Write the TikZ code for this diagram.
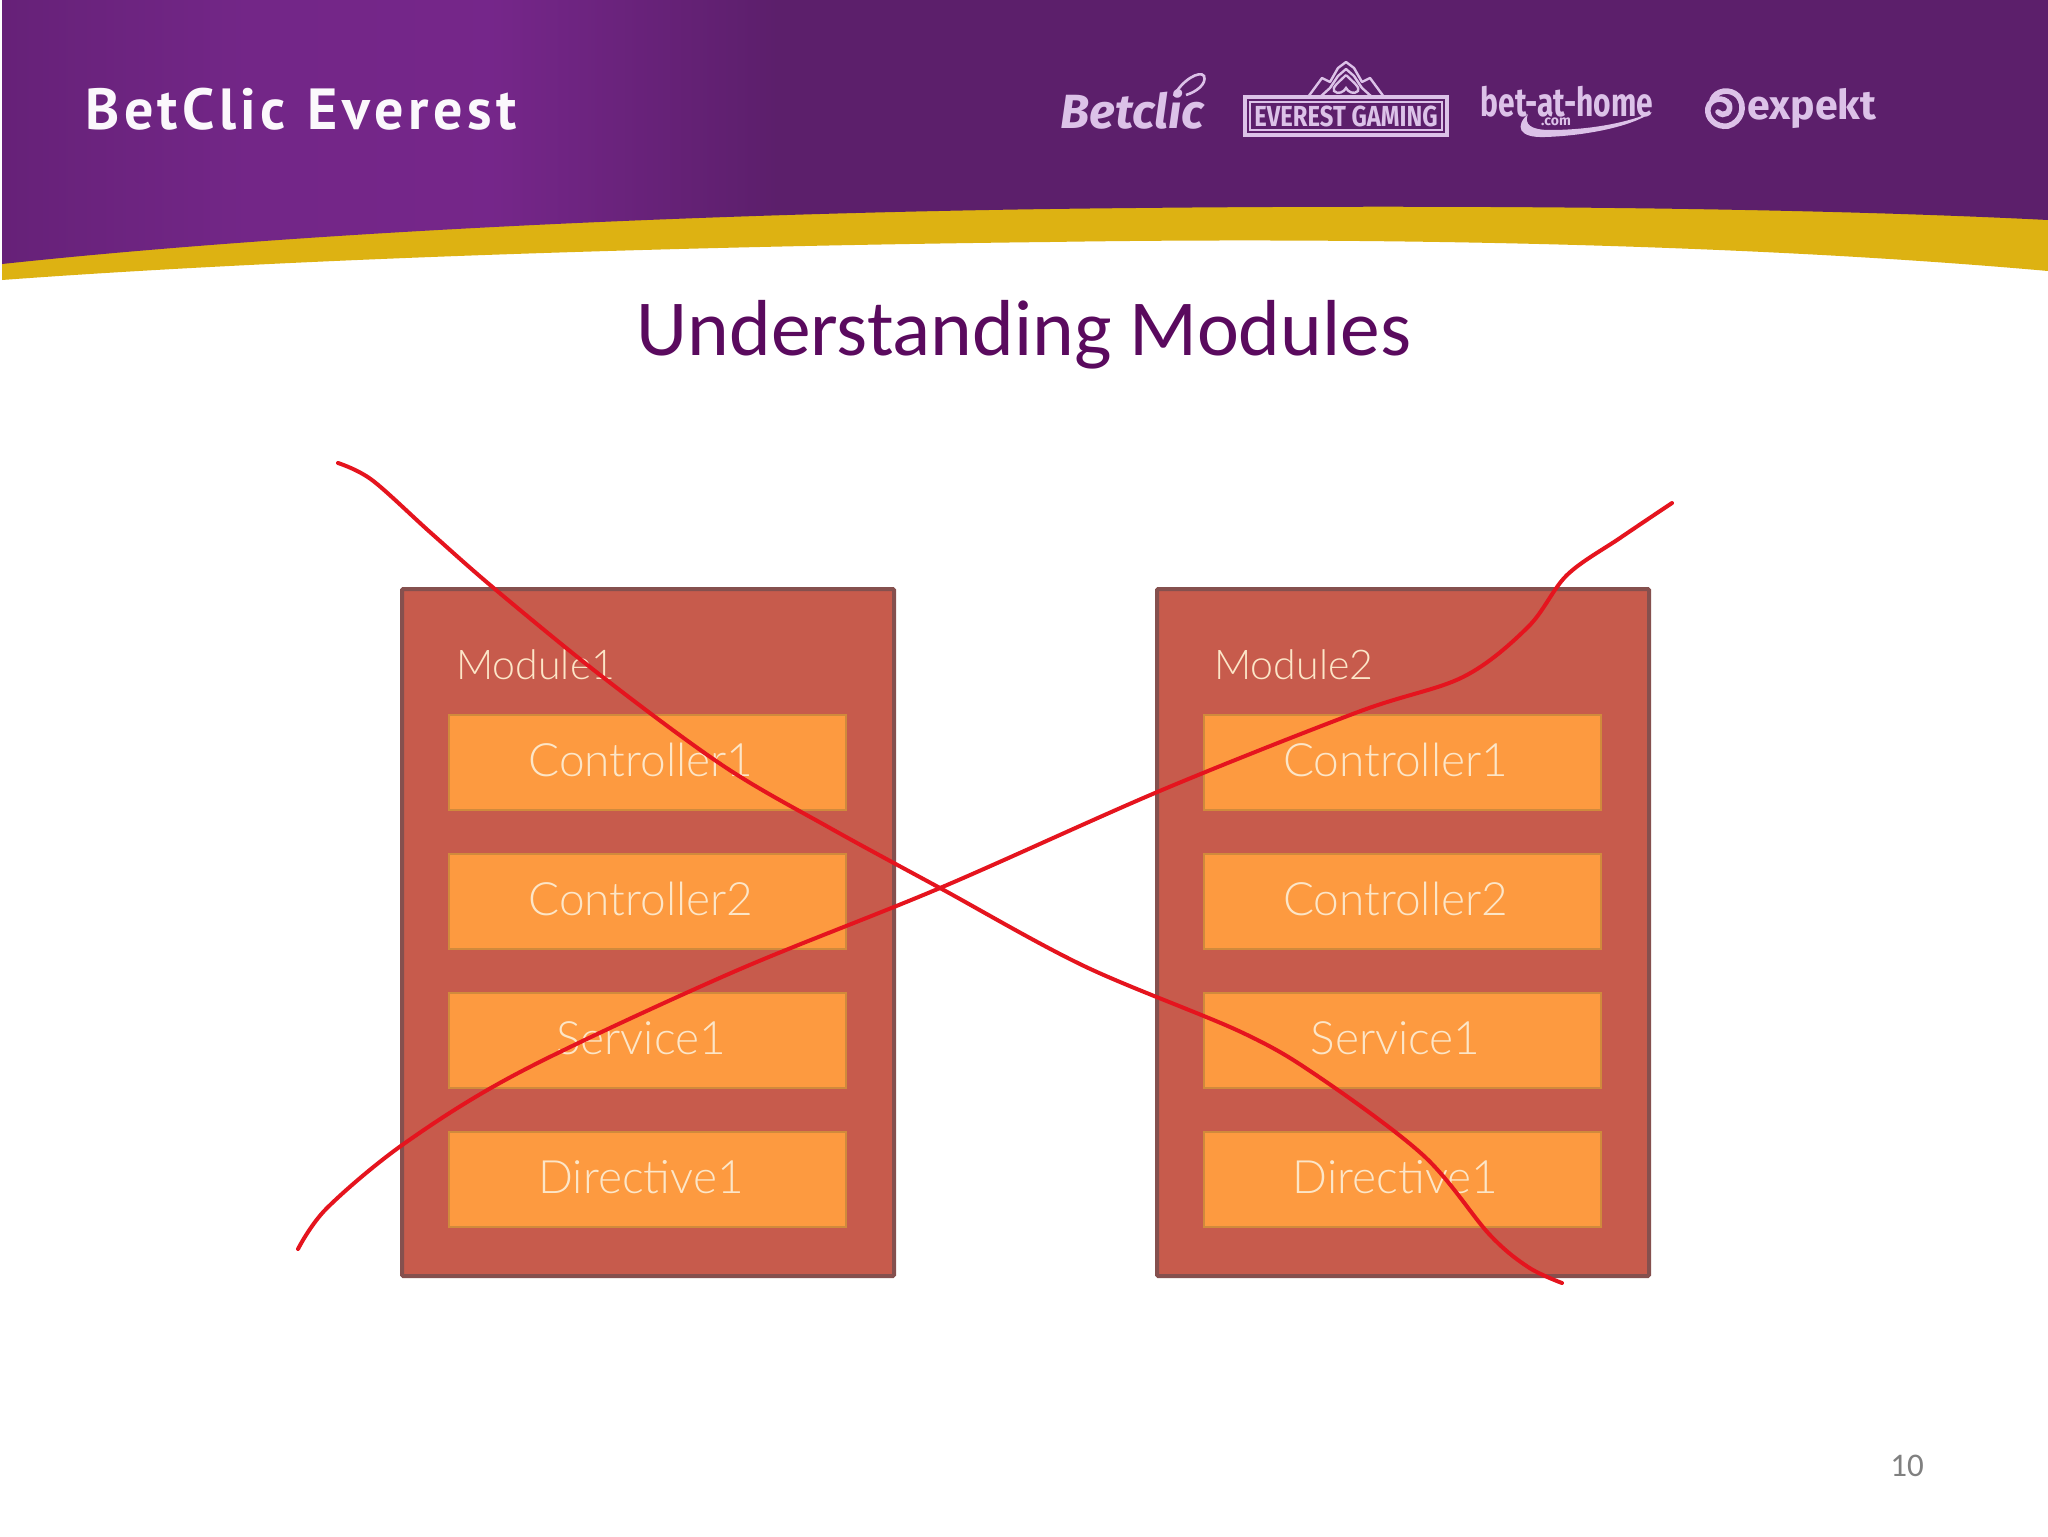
\documentclass[tikz,border=0pt]{standalone}
\usepackage{graphicx}
\usepackage{fontspec}
\setmainfont{Carlito}
\newfontfamily\handfont{Lato Light}
\newfontfamily\logofont{Fira Sans}
\newfontfamily\bandfont{PT Sans}
\definecolor{titlepurple}{HTML}{5A0A5E}
\definecolor{logolilac}{HTML}{DCC2E8}
\definecolor{bandgold}{HTML}{DDB212}
\definecolor{modfill}{HTML}{C75B4C}
\definecolor{modedge}{HTML}{85504E}
\definecolor{boxfill}{HTML}{FD9A40}
\definecolor{boxedge}{HTML}{D08A3C}
\definecolor{handcream}{HTML}{FCE6C8}
\definecolor{crossred}{HTML}{E5141E}
\pgfdeclarehorizontalshading{bandshade}{100bp}{
 rgb(0bp)=(0.40,0.13,0.47);
 rgb(25bp)=(0.40,0.13,0.47);
 rgb(31bp)=(0.45,0.15,0.53);
 rgb(37bp)=(0.46,0.15,0.54);
 rgb(44bp)=(0.36,0.12,0.42);
 rgb(100bp)=(0.36,0.12,0.42)}
\tikzset{
 modbox/.style={draw=modedge,line width=2pt,fill=modfill,minimum width=246pt,minimum height=343.5pt,inner sep=0pt,rounded corners=0.6pt},
 itembox/.style={draw=boxedge,line width=1pt,fill=boxfill,minimum width=198.5pt,minimum height=47.5pt,inner sep=0pt},
 itemtext/.style={inner sep=0pt,text=handcream,font=\handfont\fontsize{23}{23}\selectfont},
 modlabel/.style={text=handcream,inner sep=0pt,anchor=west,font=\handfont\fontsize{20.5}{22}\selectfont},
 crossline/.style={draw=crossred,line width=2pt,line cap=round,line join=round},
 logotext/.style={text=logolilac,inner sep=0pt},
}
\begin{document}
\begin{tikzpicture}[x=0.5pt,y=-0.5pt]
\useasboundingbox (0,0) rectangle (2048,1536);
\fill[white] (0,0) rectangle (2048,1536);
% band
\fill[bandgold] (2,200) -- (2048,180) -- (2048,271) .. controls (1700,240) and (1300,238) .. (1050,242) .. controls (700,246) and (300,258) .. (2,280) -- cycle;
\begin{scope}
\clip (2,0) -- (2048,0) -- (2048,220) .. controls (1750,205) and (1350,205) .. (1050,209) .. controls (700,214) and (300,232) .. (2,264) -- cycle;
\shade[shading=bandshade] (0,0) rectangle (2048,270);
\end{scope}
\node[inner sep=0pt,text=white!88!logolilac,font=\bandfont\bfseries\fontsize{29}{29}\selectfont,anchor=west] (brand) at (85,109) {B\kern2.2pt e\kern2.2pt t\kern2.2pt C\kern2.2pt l\kern2.2pt i\kern2.2pt c\kern11pt E\kern2.2pt v\kern2.2pt e\kern2.2pt r\kern2.2pt e\kern2.2pt s\kern2.2pt t};
% logos
\node[logotext,font=\logofont\bfseries\itshape\fontsize{24}{24}\selectfont,anchor=west] (logoa) at (1060,109) {Betclic};
\draw[logolilac,line width=1.3pt] (1174,96) .. controls (1182,80) and (1200,70) .. (1204,76) .. controls (1207,84) and (1196,92) .. (1186,95);
\draw[logolilac,line width=1.8pt] (1245,97) rectangle (1447,135);
\draw[logolilac,line width=0.8pt] (1250,102) rectangle (1442,130);
\node[logotext,font=\logofont\bfseries\fontsize{14.5}{15}\selectfont] (logob) at (1346,116) {\scalebox{0.82}[1]{EVEREST GAMING}};
\draw[logolilac,line width=1.2pt,line join=round] (1308,97) -- (1322,78) -- (1330,82) -- (1338,68) -- (1346,62) -- (1354,68) -- (1362,82) -- (1370,78) -- (1384,97);
\draw[logolilac,line width=1.2pt,line join=round] (1320,97) -- (1330,88) -- (1338,76) -- (1346,69) -- (1354,76) -- (1362,88) -- (1372,97);
\draw[logolilac,line width=1.2pt] (1346,75) .. controls (1338,83) and (1332,87) .. (1334,91) .. controls (1338,95) and (1344,92) .. (1346,88) .. controls (1348,92) and (1354,95) .. (1358,91) .. controls (1360,87) and (1354,83) .. (1346,75);
\node[logotext,font=\logofont\bfseries\fontsize{20}{20}\selectfont] (logoc) at (1567,102) {\scalebox{0.75}[1]{bet-at-home}};
\node[logotext,font=\logofont\bfseries\fontsize{7}{7}\selectfont] (logoc2) at (1556,122) {.com};
\fill[logolilac] (1528,114) .. controls (1515,126) and (1518,138) .. (1545,137) .. controls (1580,136) and (1630,128) .. (1652,112) .. controls (1625,124) and (1585,130) .. (1550,130) .. controls (1530,130) and (1524,124) .. (1528,114) -- cycle;
\node[logotext,font=\logofont\bfseries\fontsize{20.5}{21}\selectfont,anchor=west] (logod) at (1747,108) {expekt};
\draw[logolilac,line width=2.8pt,line cap=round] (1712,100) .. controls (1716,90) and (1730,88) .. (1738,96) .. controls (1746,106) and (1742,122) .. (1728,126) .. controls (1716,128) and (1706,118) .. (1708,108) .. controls (1710,98) and (1724,96) .. (1729,104) .. controls (1732,112) and (1724,118) .. (1718,112);
% title
\node[inner sep=0pt,text=titlepurple,font=\fontsize{39.7}{40}\selectfont] (title) at (1024,335) {Understanding Modules};
% module 1
\node[modbox] (modA) at (648,932.5) {};
\node[modlabel] (modAl) at (456,665) {Module1};
\node[itembox] (a1) at (647.5,762) {};
\node[itembox] (a2) at (647.5,901) {};
\node[itembox] (a3) at (647.5,1040.5) {};
\node[itembox] (a4) at (647.5,1179.5) {};
\node[itemtext] (a1t) at (641,760) {Controller1};
\node[itemtext] (a2t) at (641,899) {Controller2};
\node[itemtext] (a3t) at (641,1038) {Service1};
\node[itemtext] (a4t) at (641,1177) {Directive1};
% module 2
\node[modbox] (modB) at (1403,932.5) {};
\node[modlabel] (modBl) at (1214,665) {Module2};
\node[itembox] (b1) at (1402,762) {};
\node[itembox] (b2) at (1402,901) {};
\node[itembox] (b3) at (1402,1040.5) {};
\node[itembox] (b4) at (1402,1179.5) {};
\node[itemtext] (b1t) at (1395.5,760) {Controller1};
\node[itemtext] (b2t) at (1395.5,899) {Controller2};
\node[itemtext] (b3t) at (1395.5,1038) {Service1};
\node[itemtext] (b4t) at (1395.5,1177) {Directive1};
% red cross-out strokes
\draw[crossline] plot[smooth,tension=0.55] coordinates {(338,463) (372,480) (431,533) (496,590) (604,678) (725,767) (830,828) (940,888) (1084,966) (1241,1032) (1319,1077) (1424,1156) (1489,1234) (1528,1267) (1562,1283)};
\draw[crossline] plot[smooth,tension=0.55] coordinates {(298,1249) (327,1208) (405,1143) (522,1071) (731,973) (940,888) (1162,790) (1358,712) (1463,677) (1528,627) (1567,575) (1620,538) (1672,503)};
% page number
\node[inner sep=0pt,text=black!50,font=\fontsize{16.5}{17}\selectfont] (pageno) at (1907,1466) {10};
\end{tikzpicture}
\end{document}
